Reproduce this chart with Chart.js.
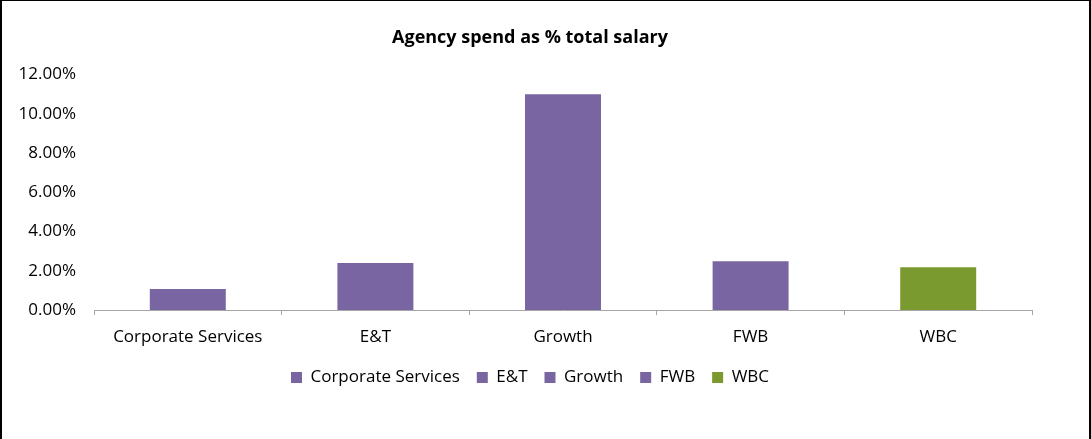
<!DOCTYPE html>
<html>
<head>
<meta charset="utf-8">
<title>Agency spend as % total salary</title>
<script src="https://cdn.jsdelivr.net/npm/chart.js@4.4.1/dist/chart.umd.min.js"></script>
<style>
  html, body { margin: 0; padding: 0; background: #fff; }
  #frame {
    width: 1087px;
    height: 438px;
    border-top: 1px solid #000;
    border-left: 2px solid #000;
    border-right: 2px solid #000;
  }
</style>
</head>
<body>
<div id="frame"><canvas id="agencyChart" width="1087" height="438"></canvas></div>
<script>
const categories = ['Corporate Services', 'E&T', 'Growth', 'FWB', 'WBC'];
const spendShare = [0.0107, 0.0240, 0.1100, 0.0248, 0.0218];
const barColours = ['#7865a1', '#7865a1', '#7865a1', '#7865a1', '#7a9a2f'];
const yTicks = [0, 0.02, 0.04, 0.06, 0.08, 0.10, 0.12];

const FONT = "'Open Sans', sans-serif";

const config = {
    type: 'bar',
    data: {
        labels: categories,
        datasets: [{
            label: 'Agency spend',
            data: spendShare,
            backgroundColor: barColours,
            barPercentage: 0.405,
            categoryPercentage: 1
        }]
    },
    options: {
        responsive: false,
        animation: false,
        layout: {
            padding: { left: 12, right: 43, bottom: 43 }
        },
        plugins: {
            title: {
                display: true,
                text: 'Agency spend as % total salary',
                color: '#000',
                font: { family: FONT, size: 18, weight: 'bold' },
                padding: { top: 26, bottom: 26 }
            },
            legend: {
                position: 'bottom',
                labels: {
                    color: '#000',
                    font: { family: FONT, size: 17 },
                    boxWidth: 11,
                    boxHeight: 11,
                    padding: 17,
                    generateLabels: function(chart) {
                        return categories.map(function(name, i) {
                            return {
                                text: name,
                                fillStyle: barColours[i],
                                strokeStyle: barColours[i],
                                lineWidth: 0,
                                index: i
                            };
                        });
                    }
                }
            },
            tooltip: { enabled: false }
        },
        scales: {
            x: {
                grid: {
                    display: true,
                    drawOnChartArea: false,
                    offset: true,
                    tickLength: 5,
                    color: '#a6a6a6'
                },
                border: { color: '#a6a6a6', width: 1 },
                ticks: {
                    color: '#000',
                    font: { family: FONT, size: 17 },
                    padding: 12
                },
                // keep the legend close under the category labels
                afterFit: function(axis) { axis.height = 42; }
            },
            y: {
                min: 0,
                max: 0.12,
                afterBuildTicks: function(axis) {
                    axis.ticks = yTicks.map(function(v) { return { value: v }; });
                },
                afterFit: function(axis) { axis.width = 80; },
                grid: { display: false },
                border: { display: false },
                ticks: {
                    color: '#000',
                    font: { family: FONT, size: 17 },
                    padding: 10,
                    callback: function(v) { return (v * 100).toFixed(2) + '%'; }
                }
            },
            // empty spacer on the right so title and legend sit a little right of canvas centre
            spacer: {
                position: 'right',
                grid: { display: false },
                border: { display: false },
                ticks: { display: false },
                afterFit: function(axis) { axis.width = 14; }
            }
        }
    }
};

window.onload = function() {
    const ctx = document.getElementById('agencyChart').getContext('2d');
    new Chart(ctx, config);
};
</script>
</body>
</html>
